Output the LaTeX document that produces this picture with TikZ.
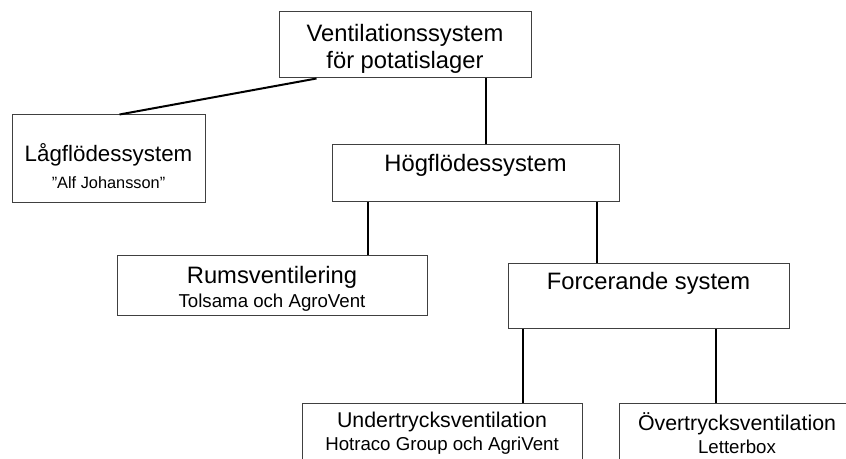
\documentclass[tikz,border=0pt]{standalone}
\usepackage{fontspec}
\setmainfont{Liberation Sans}
\usepackage{tikz}
\usetikzlibrary{positioning}
\newcommand{\subline}[1]{{\fontsize{11.2pt}{13pt}\selectfont #1}}

\begin{document}
\begin{tikzpicture}[
			x=0.6pt, y=-0.6pt,
			box/.style={
				draw=black!75,
				line width=0.6pt,
				inner sep=0pt,
				align=center,
				font=\fontsize{14.25pt}{16.2pt}\selectfont
			},
			leafbox/.style={box,font=\fontsize{12.8pt}{13.8pt}\selectfont},
			link/.style={line width=1.2pt}
			]
			\useasboundingbox (0,0) rectangle (846,459);
			\clip (0,0) rectangle (846,459);
			
			\node[box,minimum width=151.2pt,minimum height=39.6pt,text height=30.8pt] (sys) at (405,45) {Ventilationssystem\\ för potatislager};
			\node[box,minimum width=115.8pt,minimum height=52.8pt,text height=35pt,font=\fontsize{13.4pt}{16.2pt}\selectfont] (low) at (108.5,159) {Lågflödessystem\\ {\fontsize{9.8pt}{12pt}\selectfont ”Alf Johansson”}};
			\node[box,minimum width=172.2pt,minimum height=34.2pt,text depth=13.2pt] (high) at (475.5,173.5) {Högflödessystem};
			\node[box,minimum width=186pt,minimum height=36pt,text height=28.2pt] (room) at (272,286) {Rumsventilering\\[-2pt] \subline{Tolsama och AgroVent}};
			\node[box,minimum width=168.6pt,minimum height=39pt,text depth=19.2pt] (force) at (648.5,296.5) {Forcerande system};
			\node[leafbox,minimum width=168pt,minimum height=35.4pt] (under) at (442,433.5) {Undertrycksventilation\\ \subline{Hotraco Group och AgriVent}};
			\node[leafbox,minimum width=141.6pt,minimum height=35.4pt] (over) at (737,433.5) {Övertrycksventilation\\ \subline{Letterbox}};
			
			\draw[link] ([xshift=22.8pt]sys.south west) -- ([xshift=6.6pt]low.north);
			\draw[link] ([xshift=6.3pt]high.north) -- ([xshift=6.3pt]high.north |- sys.south);
			\draw[link] ([xshift=57.6pt]room.north) -- ([xshift=57.6pt]room.north |- high.south);
			\draw[link] ([xshift=-30.9pt]force.north) -- ([xshift=-30.9pt]force.north |- high.south);
			\draw[link] ([xshift=48.6pt]under.north) -- ([xshift=48.6pt]under.north |- force.south);
			\draw[link] ([xshift=-12.6pt]over.north) -- ([xshift=-12.6pt]over.north |- force.south);
			
		\end{tikzpicture}
\end{document}
